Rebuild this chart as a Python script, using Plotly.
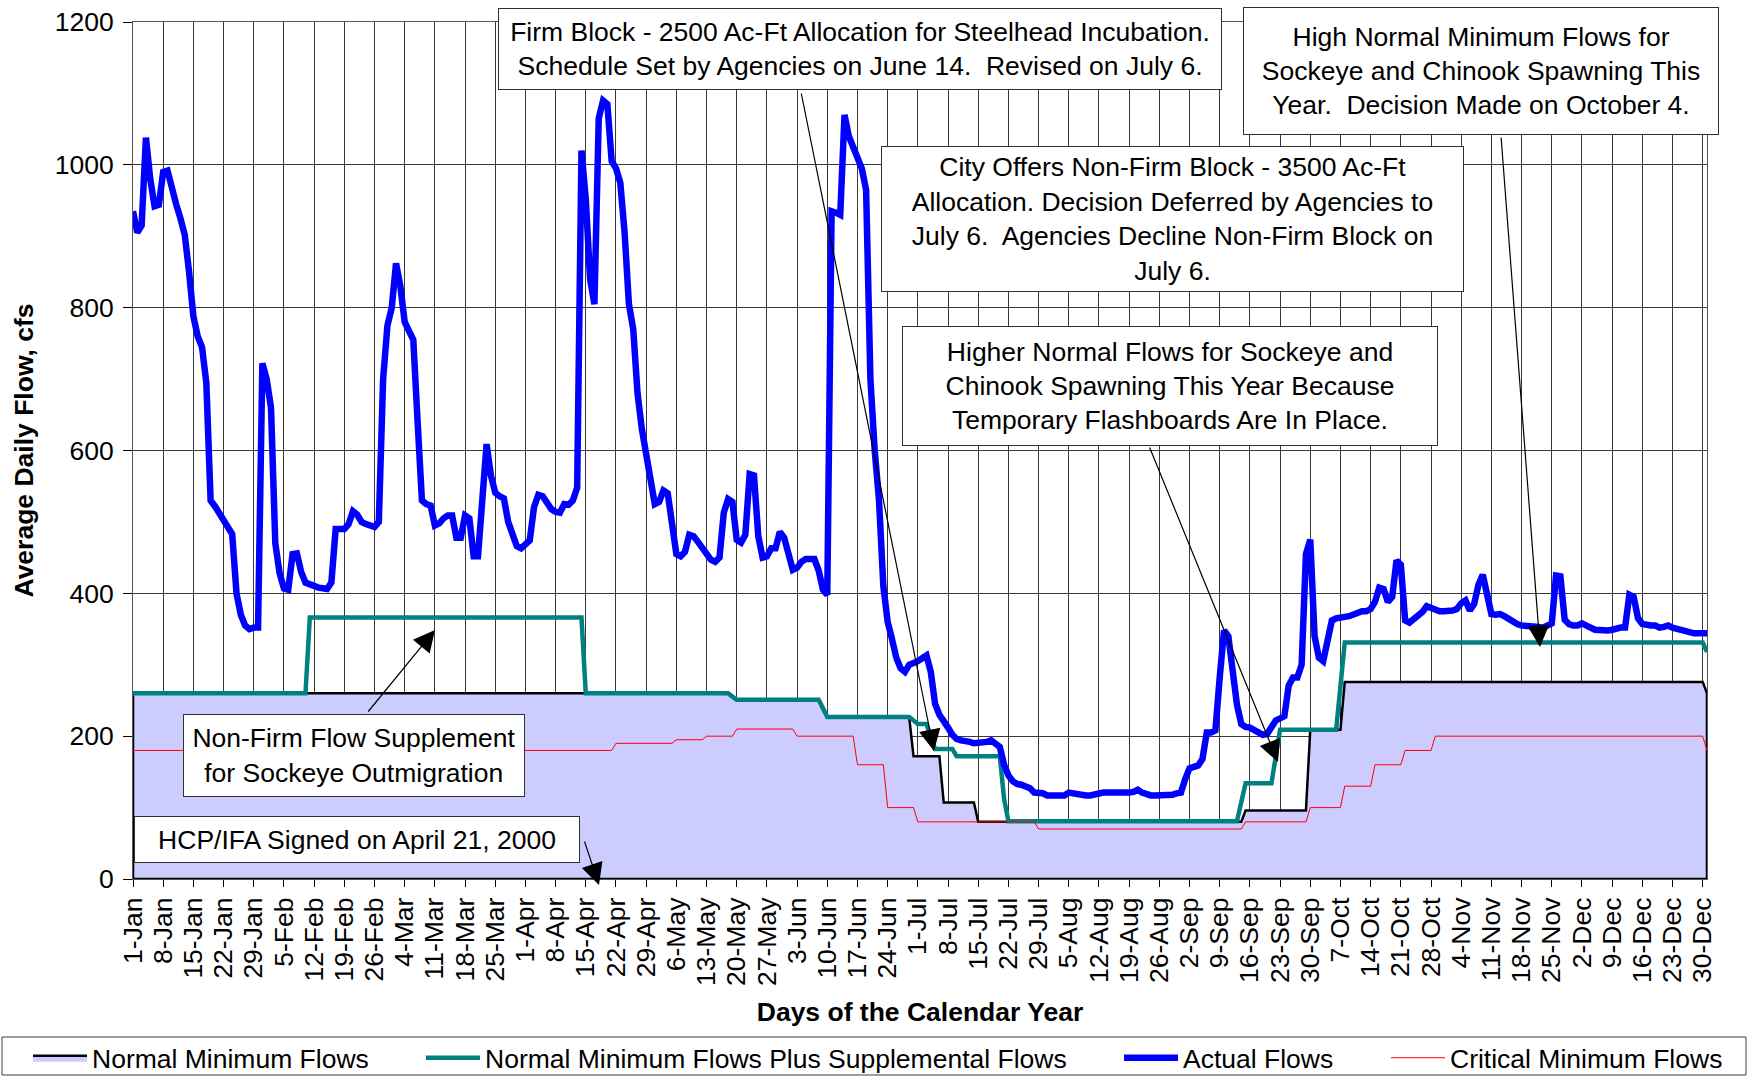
import plotly.graph_objects as go

# ---------------- data (day 0 = 1-Jan-2000, leap year; day 365 = 31-Dec) ----------------
tick_labels = ["1-Jan", "8-Jan", "15-Jan", "22-Jan", "29-Jan", "5-Feb", "12-Feb", "19-Feb", "26-Feb",
               "4-Mar", "11-Mar", "18-Mar", "25-Mar", "1-Apr", "8-Apr", "15-Apr", "22-Apr", "29-Apr",
               "6-May", "13-May", "20-May", "27-May", "3-Jun", "10-Jun", "17-Jun", "24-Jun", "1-Jul",
               "8-Jul", "15-Jul", "22-Jul", "29-Jul", "5-Aug", "12-Aug", "19-Aug", "26-Aug", "2-Sep",
               "9-Sep", "16-Sep", "23-Sep", "30-Sep", "7-Oct", "14-Oct", "21-Oct", "28-Oct", "4-Nov",
               "11-Nov", "18-Nov", "25-Nov", "2-Dec", "9-Dec", "16-Dec", "23-Dec", "30-Dec"]
tick_days = list(range(0, 365, 7))

# Actual flows, one value per day (cfs)
actual_flows = [
    935, 905, 915, 1038, 980, 942, 944, 990, 992, 965,
    945, 925, 902, 850, 788, 760, 745, 695, 530, 522,
    513, 500, 492, 483, 400, 370, 355, 350, 352, 352,
    722, 700, 660, 470, 428, 407, 405, 455, 456, 430,
    415, 412, 409, 408, 407, 406, 415, 490, 490, 490,
    497, 515, 510, 500, 497, 494, 493, 500, 700, 775,
    800, 862, 830, 780, 765, 755, 640, 530, 525, 523,
    495, 498, 505, 509, 509, 478, 478, 509, 505, 452,
    452, 528, 609, 565, 541, 536, 533, 500, 480, 466,
    463, 468, 474, 521, 538, 536, 528, 518, 514, 513,
    525, 524, 530, 548, 1020, 952, 840, 805, 1065, 1090,
    1085, 1005, 995, 975, 905, 805, 770, 680, 630, 590,
    555, 525, 528, 544, 540, 500, 455, 452, 458, 482,
    480, 472, 463, 455, 447, 444, 450, 513, 532, 528,
    475, 471, 482, 567, 565, 480, 450, 452, 463, 463,
    486, 478, 452, 433, 436, 444, 448, 448, 448, 432,
    405, 398, 935, 933, 930, 1070, 1040, 1025, 1008, 995,
    965, 700, 600, 530, 410, 360, 336, 310, 295, 290,
    300, 302, 305, 309, 313, 290, 245, 230, 222, 212,
    202, 196, 194, 194, 192, 190, 190, 190, 192, 194,
    190, 185, 160, 145, 137, 133, 132, 130, 127, 121,
    121, 120, 117, 117, 117, 117, 117, 121, 120, 117,
    117, 117, 117, 119, 121, 121, 121, 120, 121, 121,
    120, 121, 122, 125, 121, 118, 117, 117, 117, 117,
    117, 118, 120, 121, 140, 155, 157, 159, 168, 205,
    205, 208, 282, 348, 340, 290, 244, 217, 213, 212,
    209, 205, 202, 203, 215, 222, 225, 228, 271, 282,
    282, 300, 455, 475, 340, 310, 305, 335, 362, 365,
    367, 367, 368, 371, 373, 375, 375, 378, 388, 408,
    406, 388, 395, 446, 440, 362, 359, 364, 369, 374,
    382, 380, 376, 375, 375, 375, 376, 378, 386, 390,
    376, 385, 412, 426, 400, 371, 370, 371, 368, 364,
    359, 357, 355, 355, 355, 355, 353, 352, 354, 358,
    425, 424, 363, 357, 355, 355, 358, 356, 352, 349,
    348, 348, 348, 349, 351, 352, 352, 398, 395, 365,
    357, 355, 355, 355, 352, 353, 355, 352, 350, 348,
    346, 344, 344, 344, 344, 344,
]
actual_days = list(range(len(actual_flows)))

# Normal minimum flows (schedule break points)
normal_days = [0, 138, 140, 159, 161, 180, 181, 187, 188, 195, 196, 257, 258, 272, 273, 280, 281, 364, 365]
normal_vals = [260, 260, 250, 250, 226, 226, 172, 172, 107, 107, 80, 80, 96, 96, 209, 209, 276, 276, 260]

# Normal minimum flows plus supplemental flows (break points)
supp_days = [0, 40, 41, 104, 105, 138, 140, 159, 161, 180, 182, 184, 186, 190, 191, 201, 202, 203,
             256, 258, 264, 266, 279, 281, 364, 365]
supp_vals = [260, 260, 366, 366, 260, 260, 251, 251, 227, 227, 217, 217, 182, 182, 172, 172, 112, 81,
             81, 134, 134, 209, 209, 331, 331, 318]

# Critical minimum flows (break points)
crit_days = [0, 111, 112, 125, 126, 132, 133, 139, 140, 153, 154, 167, 168, 174, 175, 181, 182, 209, 210,
             257, 258, 272, 273, 280, 281, 287, 288, 294, 295, 301, 302, 364, 365]
crit_vals = [180, 180, 190, 190, 195, 195, 200, 200, 210, 210, 200, 200, 160, 160, 100, 100, 80, 80, 70,
             70, 80, 80, 100, 100, 130, 130, 160, 160, 180, 180, 200, 200, 180]

series_names = ["Normal Minimum Flows", "Normal Minimum Flows Plus Supplemental Flows",
                "Actual Flows", "Critical Minimum Flows"]

# ---------------- layout helpers (pixel -> paper) ----------------
W, H = 1748, 1076
L, R, T, B = 133, 41, 22, 197
PW, PH = W - L - R, H - T - B


def px(x):
    return (x - L) / PW


def py(y):
    return (H - B - y) / PH


FONT = "Liberation Sans, Arial, sans-serif"
FS = 26.5

fig = go.Figure()

# Normal minimum flows: closed area with black outline
fig.add_trace(go.Scatter(
    x=[normal_days[0]] + normal_days + [normal_days[-1], normal_days[0]],
    y=[0] + normal_vals + [0, 0],
    mode="lines", fill="toself", fillcolor="#CCCCFF",
    line=dict(color="black", width=2.5),
    name=series_names[0], legend="legend", hoverinfo="skip"))

fig.add_trace(go.Scatter(
    x=supp_days, y=supp_vals, mode="lines",
    line=dict(color="#008080", width=4.5),
    name=series_names[1], legend="legend2"))

fig.add_trace(go.Scatter(
    x=actual_days, y=actual_flows, mode="lines",
    line=dict(color="#0000FF", width=6.5),
    name=series_names[2], legend="legend3"))

fig.add_trace(go.Scatter(
    x=crit_days, y=crit_vals, mode="lines",
    line=dict(color="#FF0000", width=1),
    name=series_names[3], legend="legend4"))

# ---------------- annotations ----------------
boxes = [
    ("Firm Block - 2500 Ac-Ft Allocation for Steelhead Incubation.<br>"
     "Schedule Set by Agencies on June 14.  Revised on July 6.", 498, 8, 1222, 90),
    ("City Offers Non-Firm Block - 3500 Ac-Ft<br>Allocation. Decision Deferred by Agencies to<br>"
     "July 6.  Agencies Decline Non-Firm Block on<br>July 6.", 881, 146, 1464, 292),
    ("Higher Normal Flows for Sockeye and<br>Chinook Spawning This Year Because<br>"
     "Temporary Flashboards Are In Place.", 902, 326, 1438, 446),
    ("High Normal Minimum Flows for<br>Sockeye and Chinook Spawning This<br>"
     "Year.  Decision Made on October 4.", 1243, 7, 1719, 135),
    ("Non-Firm Flow Supplement<br>for Sockeye Outmigration", 183, 714, 525, 797),
    ("HCP/IFA Signed on April 21, 2000", 134, 816, 580, 863),
]
annotations = []
for text, x0, y0, x1, y1 in boxes:
    annotations.append(dict(
        text=text, xref="paper", yref="paper",
        x=px((x0 + x1) / 2), y=py((y0 + y1) / 2), xanchor="center", yanchor="middle",
        width=(x1 - x0) - 6, height=(y1 - y0) - 6, borderpad=2,
        showarrow=False, align="center", valign="middle",
        bgcolor="white", bordercolor="#303030", borderwidth=1,
        font=dict(family=FONT, size=FS, color="black")))

# arrows: (tail_x, tail_y, tip_x, tip_y) in pixels
arrows = [
    (801, 92, 934, 751),
    (1149, 446, 1278, 762),
    (1501, 136, 1540, 647),
    (367, 713, 435, 630),
    (584, 840, 599, 885),
]
for tx, ty, hx, hy in arrows:
    annotations.append(dict(
        text="", xref="paper", yref="paper", x=px(hx), y=py(hy),
        ax=tx - hx, ay=ty - hy, axref="pixel", ayref="pixel",
        showarrow=True, arrowhead=2, arrowsize=3.6, arrowwidth=1.2, arrowcolor="black",
        standoff=0, startstandoff=0))

shapes = [dict(type="rect", xref="paper", yref="paper",
               x0=px(2), x1=px(1746), y0=py(1075), y1=py(1037),
               line=dict(color="#404040", width=1), fillcolor="rgba(0,0,0,0)", layer="above")]

legend_common = dict(orientation="v", xanchor="left", yanchor="middle", bgcolor="rgba(0,0,0,0)",
                     borderwidth=0, itemwidth=54, font=dict(family=FONT, size=FS, color="black"))
leg_y = py(1058)

fig.update_layout(
    width=W, height=H,
    margin=dict(l=L, r=R, t=T, b=B, autoexpand=False),
    paper_bgcolor="white", plot_bgcolor="white",
    font=dict(family=FONT, size=FS, color="black"),
    xaxis=dict(range=[0, 365], tickmode="array", tickvals=tick_days, ticktext=tick_labels,
               tickangle=-90, ticks="outside", ticklen=7, tickcolor="black",
               showgrid=True, gridcolor="#3a3a3a", gridwidth=1,
               showline=True, linecolor="#555555", linewidth=1, mirror=True, zeroline=False,
               tickfont=dict(family=FONT, size=FS),
               title=dict(text="<b>Days of the Calendar Year</b>", standoff=17,
                          font=dict(family=FONT, size=FS)),
               automargin=False),
    yaxis=dict(range=[0, 1200], dtick=200, ticks="outside", ticklen=9, tickcolor="black",
               ticklabelstandoff=4,
               showgrid=True, gridcolor="#3a3a3a", gridwidth=1,
               showline=True, linecolor="#555555", linewidth=1, mirror=True, zeroline=False,
               tickfont=dict(family=FONT, size=FS),
               title=dict(text="<b>Average Daily Flow, cfs</b>", standoff=13,
                          font=dict(family=FONT, size=FS)),
               automargin=False),
    legend=dict(x=px(28), y=leg_y, **legend_common),
    legend2=dict(x=px(421), y=leg_y, **legend_common),
    legend3=dict(x=px(1119), y=leg_y, **legend_common),
    legend4=dict(x=px(1386), y=leg_y, **legend_common),
    annotations=annotations,
    shapes=shapes,
    showlegend=True,
)

fig.write_html("out.html", config={"displayModeBar": False},
               post_script="document.body.style.margin='0px';")
